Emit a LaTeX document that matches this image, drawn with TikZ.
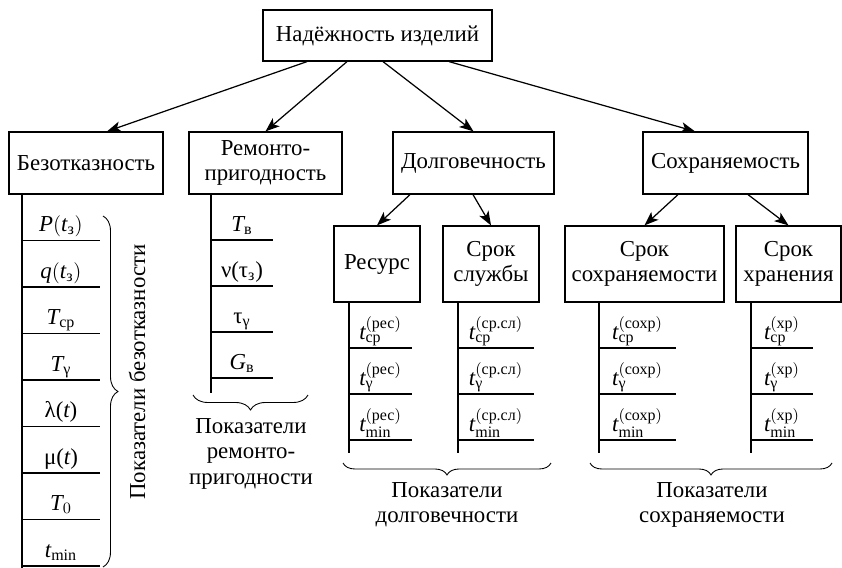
\documentclass[tikz,border=0pt]{standalone}
\usepackage{amsmath}
\usepackage{fontspec}
\setmainfont{Liberation Serif}
\usetikzlibrary{arrows.meta,decorations.pathreplacing}

\begin{document}
\begin{tikzpicture}[x=0.02cm,y=-0.02cm,
  font=\fontsize{13}{14.5}\selectfont,
  box/.style={draw, line width=0.7pt, align=center, inner sep=0pt},
  arr/.style={-{Stealth[length=8pt,width=6pt,inset=2pt]}, line width=0.7pt},
  lst/.style={line width=0.7pt},
  lbl/.style={anchor=base, yshift=5pt, inner sep=0pt},
  brc/.style={decorate, decoration={brace, amplitude=#1}, line width=0.5pt}]
  \useasboundingbox (0,0) rectangle (842,568);
  % Boxes
  \node[box, minimum width=4.58cm, minimum height=1.02cm] (top) at (377.5,35.5) {Надёжность изделий};
  \node[box, minimum width=3.08cm, minimum height=1.24cm] (bez) at (86,163) {Безотказность};
  \node[box, minimum width=3.06cm, minimum height=1.24cm] (rem) at (265.5,163) {Ремонто-\\пригодность};
  \node[box, minimum width=3.22cm, minimum height=1.24cm] (dol) at (473.5,163) {Долговечность};
  \node[box, minimum width=3.30cm, minimum height=1.24cm] (sokh) at (725.5,163) {Сохраняемость};
  \node[box, minimum width=1.72cm, minimum height=1.52cm] (res) at (377,264) {Ресурс};
  \node[box, minimum width=1.92cm, minimum height=1.52cm] (srsl) at (491,264) {Срок\\службы};
  \node[box, minimum width=3.18cm, minimum height=1.52cm] (srsokh) at (644.5,264) {Срок\\сохраняемости};
  \node[box, minimum width=2.10cm, minimum height=1.52cm] (srkhr) at (788.5,264) {Срок\\хранения};
  % Arrows
  \draw[arr] (top.south -| 307,0) -- (bez.north -| 107,0);
  \draw[arr] (top.south -| 347,0) -- (rem.north);
  \draw[arr] (top.south -| 383,0) -- (dol.north);
  \draw[arr] (top.south -| 449,0) -- (sokh.north -| 695,0);
  \draw[arr] (dol.south -| 410,0) -- (res.north);
  \draw[arr] (dol.south -| 473,0) -- (srsl.north);
  \draw[arr] (sokh.south -| 678,0) -- (srsokh.north);
  \draw[arr] (sokh.south -| 748,0) -- (srkhr.north);
  % Indicator lists
  \draw[lst] (bez.south -| 22,0) -- (22,568);
  \foreach \t [count=\i] in {{$\mathit{P}(\mathit{t}_\text{з})$}, {$\mathit{q}(\mathit{t}_\text{з})$},
      {$\mathit{T}_\text{ср}$}, {$\mathit{T}_\text{γ}$}, {λ($\mathit{t}$)}, {μ($\mathit{t}$)},
      {$\mathit{T}_0$}, {$\mathit{t}_\text{min}$}}
    \draw[lst] (22,194+46.5*\i) -- ++(78,0) node[lbl, midway] {\t};
  \draw[lst] (rem.south -| 211,0) -- (211,393);
  \foreach \t [count=\i] in {{$\mathit{T}_\text{в}$}, {ν(τ$_\text{з}$)}, {τ$_\text{γ}$}, {$\mathit{G}_\text{в}$}}
    \draw[lst] (211,194+46*\i) -- ++(62,0) node[lbl, midway] {\t};
  \foreach \x/\w/\s/\p in {349/63/res/рес, 458/76/srsl/ср.сл, 599/77/srsokh/сохр, 751/62/srkhr/хр} {
    \draw[lst] (\s.south -| \x,0) -- (\x,453);
    \foreach \u [count=\i] in {ср, γ, min}
      \draw[lst] (\x,302+46*\i) -- ++(\w,0) node[lbl, midway] {$\mathit{t}^{(\text{\p})}_{\text{\u}}$};
  }
  % Braces
  \draw[brc=0.3cm] (103,216) -- (103,567);
  \node[rotate=90] (lbez) at (137,372) {Показатели безотказности};
  \draw[brc=0.3cm, decoration={mirror}] (193,395) -- (308,395);
  \node[anchor=north, align=center] (lrem) at (251,412) {Показатели\\ремонто-\\пригодности};
  \draw[brc=0.24cm, decoration={mirror}] (343,463) -- (551,463);
  \node[anchor=north, align=center] (ldol) at (447,476) {Показатели\\долговечности};
  \draw[brc=0.24cm, decoration={mirror}] (590,463) -- (832,463);
  \node[anchor=north, align=center] (lsokh) at (712,476) {Показатели\\сохраняемости};
\end{tikzpicture}
\end{document}
